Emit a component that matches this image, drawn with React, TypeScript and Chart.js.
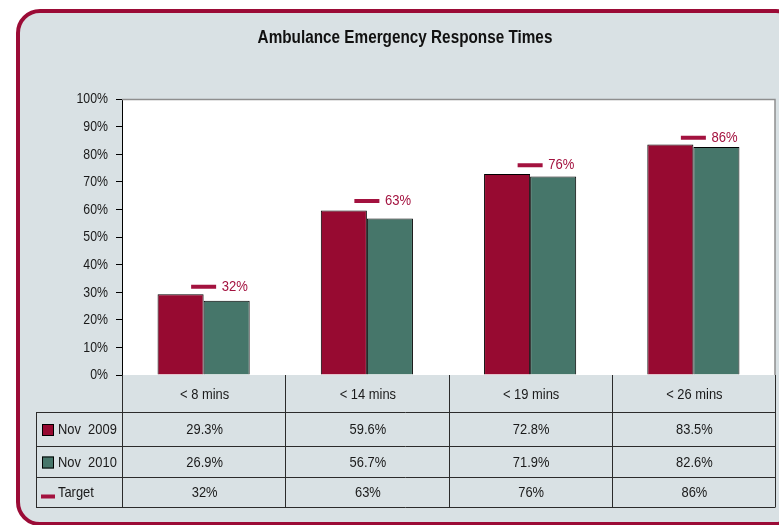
import React, { useEffect, useRef } from "react";
import { Chart, registerables } from "chart.js";

Chart.register(...registerables);

const chartTitle = "Ambulance Emergency Response Times";
const categories = ["< 8 mins", "< 14 mins", "< 19 mins", "< 26 mins"];
const nov2009 = [29.3, 59.6, 72.8, 83.5];
const nov2010 = [26.9, 56.7, 71.9, 82.6];
const target = [32, 63, 76, 86];
const seriesLabels = ["Nov  2009", "Nov  2010", "Target"];
const yTicks = [0, 10, 20, 30, 40, 50, 60, 70, 80, 90, 100];

const FONT = "'Liberation Sans', Arial, sans-serif";
const RED = "#970a31";
const GREEN = "#46766a";
const TARGET_RED = "#a3123f";
const BG = "#d9e1e4";
const FRAME = "#9b0b36";
const TEXT = "#1a1a1a";

function roundRectPath(ctx: CanvasRenderingContext2D, x: number, y: number, w: number, h: number, r: number) {
  ctx.beginPath();
  ctx.moveTo(x + r, y);
  ctx.lineTo(x + w - r, y);
  ctx.arcTo(x + w, y, x + w, y + r, r);
  ctx.lineTo(x + w, y + h - r);
  ctx.arcTo(x + w, y + h, x + w - r, y + h, r);
  ctx.lineTo(x + r, y + h);
  ctx.arcTo(x, y + h, x, y + h - r, r);
  ctx.lineTo(x, y + r);
  ctx.arcTo(x, y, x + r, y, r);
  ctx.closePath();
}

function narrowText(
  ctx: CanvasRenderingContext2D,
  text: string,
  x: number,
  y: number,
  align: CanvasTextAlign,
  sx: number
) {
  ctx.save();
  ctx.translate(x, y);
  ctx.scale(sx, 1);
  ctx.textAlign = align;
  ctx.textBaseline = "middle";
  ctx.fillText(text, 0, 0);
  ctx.restore();
}

const decorPlugin = {
  id: "decor",
  beforeDraw(chart: any) {
    const ctx: CanvasRenderingContext2D = chart.ctx;
    const { left, right, top, bottom } = chart.chartArea;
    ctx.save();
    ctx.fillStyle = "#ffffff";
    ctx.fillRect(0, 0, chart.width, chart.height);
    roundRectPath(ctx, 18, 11, 780, 513, 22);
    ctx.fillStyle = BG;
    ctx.fill();
    ctx.lineWidth = 4;
    ctx.strokeStyle = FRAME;
    ctx.stroke();
    // plot area
    ctx.fillStyle = "#ffffff";
    ctx.fillRect(left, top, right - left, bottom - top);
    // title
    ctx.fillStyle = "#111";
    ctx.font = `bold 18px ${FONT}`;
    narrowText(ctx, chartTitle, 405, 38, "center", 0.85);
    // y tick labels
    const yScale = chart.scales.y;
    ctx.fillStyle = TEXT;
    ctx.font = `14px ${FONT}`;
    yTicks.forEach((v) => {
      narrowText(ctx, v + "%", 108, yScale.getPixelForValue(v) + 0.5, "right", 0.88);
    });
    ctx.restore();
  },
  afterDraw(chart: any) {
    const ctx: CanvasRenderingContext2D = chart.ctx;
    const { left, right, top, bottom } = chart.chartArea;
    const xScale = chart.scales.x;
    ctx.save();
    // plot border top & right
    ctx.strokeStyle = "#8e8e8e";
    ctx.lineWidth = 1.5;
    ctx.beginPath();
    ctx.moveTo(left, top + 0.5);
    ctx.lineTo(right, top + 0.5);
    ctx.lineTo(right, bottom);
    ctx.stroke();

    // target labels
    const tMeta = chart.getDatasetMeta(2);
    ctx.fillStyle = TARGET_RED;
    ctx.font = `15px ${FONT}`;
    tMeta.data.forEach((pt: any, i: number) => {
      narrowText(ctx, target[i] + "%", pt.x + 18, pt.y, "left", 0.87);
    });

    // data table
    const tableLeft = 36;
    const rowY = [bottom, 412, 446, 477, 507];
    const bounds: number[] = [];
    const n = categories.length;
    const catW = (right - left) / n;
    for (let i = 0; i <= n; i++) bounds.push(left + catW * i);

    ctx.strokeStyle = "#2b2b2b";
    ctx.lineWidth = 1;
    ctx.beginPath();
    for (let r = 1; r < rowY.length; r++) {
      const y = Math.round(rowY[r]) + 0.5;
      ctx.moveTo(tableLeft, y);
      ctx.lineTo(right, y);
    }
    ctx.moveTo(tableLeft + 0.5, rowY[1]);
    ctx.lineTo(tableLeft + 0.5, rowY[4] + 0.5);
    bounds.forEach((bx) => {
      const x = Math.round(bx) + 0.5;
      ctx.moveTo(x, bottom);
      ctx.lineTo(x, rowY[4] + 0.5);
    });
    ctx.stroke();

    ctx.fillStyle = TEXT;
    ctx.font = `15px ${FONT}`;
    const rowsText = [
      categories,
      nov2009.map((v) => v.toFixed(1) + "%"),
      nov2010.map((v) => v.toFixed(1) + "%"),
      target.map((v) => v + "%"),
    ];
    rowsText.forEach((row, r) => {
      const cy = (rowY[r] + rowY[r + 1]) / 2 + 1;
      row.forEach((txt, i) => {
        const cx = xScale.getPixelForValue(i) + 1;
        narrowText(ctx, txt, cx, cy, "center", 0.86);
      });
    });

    // legend keys
    const keyColors = [RED, GREEN];
    for (let r = 0; r < 3; r++) {
      const cy = (rowY[r + 1] + rowY[r + 2]) / 2 + 1;
      if (r < 2) {
        ctx.fillStyle = keyColors[r];
        ctx.fillRect(42, cy - 6, 12, 12);
        ctx.strokeStyle = "#000";
        ctx.lineWidth = 1;
        ctx.strokeRect(42.5, cy - 5.5, 11, 11);
      } else {
        ctx.fillStyle = TARGET_RED;
        ctx.fillRect(41, cy + 1.5, 14, 4);
      }
      ctx.fillStyle = TEXT;
      narrowText(ctx, seriesLabels[r], 58, cy, "left", 0.86);
    }
    ctx.restore();
  },
};

export default function App() {
  const canvasRef = useRef<HTMLCanvasElement | null>(null);

  useEffect(() => {
    const canvas = canvasRef.current;
    if (!canvas) return;
    const chart = new Chart(canvas, {
      type: "bar",
      data: {
        labels: categories,
        datasets: [
          {
            label: seriesLabels[0],
            data: nov2009,
            backgroundColor: RED,
            borderColor: "#000",
            borderWidth: 1,
            barPercentage: 1,
            categoryPercentage: 0.5644,
          },
          {
            label: seriesLabels[1],
            data: nov2010,
            backgroundColor: GREEN,
            borderColor: "#000",
            borderWidth: 1,
            barPercentage: 1,
            categoryPercentage: 0.5644,
          },
          {
            type: "line",
            label: seriesLabels[2],
            data: target,
            showLine: false,
            pointStyle: "line",
            pointRadius: 12.5,
            pointHoverRadius: 12.5,
            pointBorderWidth: 4,
            pointBorderColor: TARGET_RED,
            pointBackgroundColor: TARGET_RED,
            borderColor: TARGET_RED,
            order: -1,
          } as any,
        ],
      },
      options: {
        responsive: false,
        animation: false,
        events: [],
        layout: { autoPadding: false, padding: { top: 99, left: 0, right: 4, bottom: 150 } },
        plugins: {
          legend: { display: false },
          title: { display: false },
          tooltip: { enabled: false },
        },
        scales: {
          x: {
            display: false,
            offset: true,
          },
          y: {
            min: 0,
            max: 100,
            afterFit: (s: any) => {
              s.width = 122;
            },
            ticks: {
              stepSize: 10,
              display: false,
            },
            grid: {
              drawOnChartArea: false,
              drawTicks: true,
              tickLength: 6,
              color: "#000",
              lineWidth: 1,
            },
            border: { display: true, color: "#000", width: 1 },
          },
        },
      } as any,
      plugins: [decorPlugin],
    });
    return () => chart.destroy();
  }, []);

  return (
    <div style={{ position: "fixed", left: 0, top: 0, width: 779, height: 525 }}>
      <canvas ref={canvasRef} width={779} height={525} style={{ display: "block", width: 779, height: 525 }} />
    </div>
  );
}
